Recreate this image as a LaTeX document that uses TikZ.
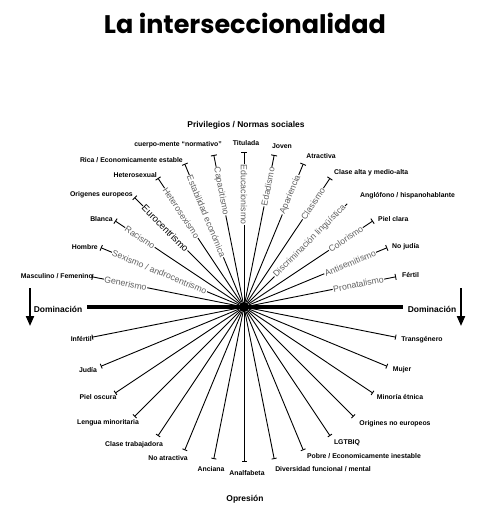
\documentclass[tikz,border=0pt]{standalone}
\usepackage{fontspec}
\setmainfont{Liberation Sans}
\newfontfamily\titlefont{Poppins}
\usetikzlibrary{arrows.meta}
\tikzset{
  ray/.style={line width=0.9bp, -{Bar[width=6bp,line width=0.9bp]}},
  raylow/.style={line width=0.9bp, -{Bar[width=5bp,line width=0.9bp]}},
  rayplain/.style={line width=0.9bp},
  raylab/.style={fill=white, inner sep=0.6bp, text=black!62, font=\fontsize{8.8}{9}\selectfont},
  endlab/.style={inner sep=0pt, font=\bfseries\fontsize{6.9}{7}\selectfont},
  headlab/.style={inner sep=0pt, font=\bfseries\fontsize{8.5}{9}\selectfont},
  domarrow/.style={line width=2bp, -{Triangle[width=8bp,length=10bp]}},
}
\begin{document}
\begin{tikzpicture}[x=1bp,y=-1bp]
\useasboundingbox (0,0) rectangle (489,512);
\fill[white] (0,0) rectangle (489,512);

% title
\node (title) at (245,23) {\resizebox{282bp}{!}{\titlefont\bfseries La interseccionalidad}};

% centre
\node[circle, fill=black, inner sep=0pt, minimum size=10bp] (c) at (244,307) {};

% upper rays
\foreach \a/\n in {168.75/gen,157.5/sex,146.25/rac,135/eur,123.75/het,112.5/eco,101.25/cap,90/edu,78.75/eda,67.5/apa,56.25/cla,33.75/col,22.5/ant,11.25/pro}{
  \coordinate (e\n) at ({244+155*cos(\a)},{307-155*sin(\a)});
  \draw[ray] (c) -- (e\n);
}
\coordinate (elin) at ({244+146*cos(45)},{307-146*sin(45)});
\draw[rayplain] (c) -- (elin);

% lower rays
\foreach \a/\n in {-168.75/l1,-157.5/l2,-146.25/l3,-135/l4,-123.75/l5,-112.5/l6,-101.25/l7,-90/l8,-78.75/l9,-67.5/l10,-56.25/l11,-45/l12,-33.75/l13,-22.5/l14,-11.25/l15}{
  \coordinate (e\n) at ({244+155*cos(\a)},{307-155*sin(\a)});
  \draw[raylow] (c) -- (e\n);
}

% ray labels, left half (read inward)
\foreach \a/\n/\t in {168.75/gen/Generismo,157.5/sex/{Sexismo / androcentrismo},146.25/rac/Racismo,123.75/het/Heterosexismo,112.5/eco/{Estabilidad económica},101.25/cap/Capacitismo,90/edu/Educacionismo}{
  \node[raylab, rotate=\a-180, anchor=west] (r\n) at ({244+143*cos(\a)},{307-143*sin(\a)}) {\t};
}
\node[raylab, text=black, rotate=-45, anchor=west, font=\fontsize{9.6}{10}\selectfont] (reur) at ({244+143*cos(135)},{307-143*sin(135)}) {Eurocentrismo};
% ray labels, right half (read outward)
\foreach \a/\n/\t in {78.75/eda/Edadismo,67.5/apa/Apariencia,56.25/cla/Clasismo,45/lin/{Discriminación lingüística},33.75/col/Colorismo,22.5/ant/Antisemitismo,11.25/pro/Pronatalismo}{
  \node[raylab, rotate=\a, anchor=east] (r\n) at ({244+143*cos(\a)},{307-143*sin(\a)}) {\t};
}

% end labels, upper
\node[endlab, anchor=east] (tgen) at (93,276) {Masculino / Femenino};
\node[endlab, anchor=east] (tsex) at (98,247) {Hombre};
\node[endlab, anchor=east] (trac) at (113,219) {Blanca};
\node[endlab, anchor=east] (teur) at (133,195) {Origenes europeos};
\node[endlab, anchor=east] (thet) at (157,175) {Heterosexual};
\node[endlab, anchor=east] (teco) at (183,160) {Rica / Economicamente estable};
\node[endlab] (tcap) at (178,145) {cuerpo-mente “normativo”};
\node[endlab] (tedu) at (246,143) {Titulada};
\node[endlab] (teda) at (282,146) {Joven};
\node[endlab] (tapa) at (321,156) {Atractiva};
\node[endlab, anchor=west] (tcla) at (334,173) {Clase alta y medio-alta};
\node[endlab, anchor=west] (tlin) at (360,196) {Anglófono / hispanohablante};
\node[endlab, anchor=west] (tcol) at (378,219) {Piel clara};
\node[endlab, anchor=west] (tant) at (392,247) {No judía};
\node[endlab, anchor=west] (tpro) at (402,275) {Fértil};

% end labels, lower
\node[endlab, anchor=east] (tl1) at (92,339) {Infértil};
\node[endlab] (tl2) at (88,370) {Judía};
\node[endlab] (tl3) at (98,397) {Piel oscura};
\node[endlab] (tl4) at (108,423) {Lengua minoritaria};
\node[endlab] (tl5) at (134,445) {Clase trabajadora};
\node[endlab] (tl6) at (168,458) {No atractiva};
\node[endlab] (tl7) at (211,469) {Anciana};
\node[endlab] (tl8) at (247,473) {Analfabeta};
\node[endlab] (tl9) at (323,469) {Diversidad funcional / mental};
\node[endlab] (tl10) at (364,456) {Pobre / Economicamente inestable};
\node[endlab] (tl11) at (347,443) {LGTBIQ};
\node[endlab] (tl12) at (395,424) {Origines no europeos};
\node[endlab] (tl13) at (400,397) {Minoría étnica};
\node[endlab] (tl14) at (402,370) {Mujer};
\node[endlab] (tl15) at (422,340) {Transgénero};

% domination axis
\coordinate (hl) at (87,307);
\coordinate (hr) at (403,307);
\draw[line width=4bp] (hl) -- (hr);
\node[circle, fill=black, inner sep=0pt, minimum size=10bp] at (c) {};
\node[headlab] (dl) at (58,309) {Dominación};
\node[headlab] (dr) at (432,309) {Dominación};
\coordinate (al1) at (30,288);
\coordinate (al2) at (30,326);
\coordinate (ar1) at (461,288);
\coordinate (ar2) at (461,326);
\draw[domarrow] (al1) -- (al2);
\draw[domarrow] (ar1) -- (ar2);

\node[headlab] (priv) at (246,125) {Privilegios / Normas sociales};
\node[headlab] (opr) at (245,499) {Opresión};
\end{tikzpicture}
\end{document}
